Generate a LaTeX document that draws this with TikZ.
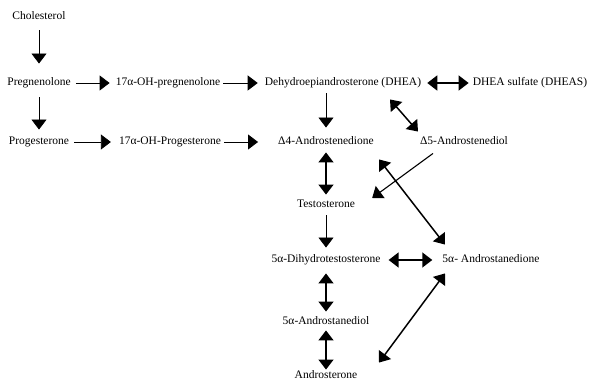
\documentclass[tikz,border=0pt]{standalone}
\usepackage{fontspec}
\setmainfont{Liberation Serif}
\usepackage{tikz}
\usetikzlibrary{arrows.meta}
\tikzset{
  cmpd/.style={inner sep=0pt,text height=8pt,text depth=2.5pt,font=\fontsize{11.5}{13}\selectfont},
  flow/.style={-{Triangle[length=10pt,width=15pt]},line width=0.8pt,draw=black},
  twoway/.style={{Triangle[length=10pt,width=15pt]}-{Triangle[length=10pt,width=15pt]},line width=1.5pt,draw=black},
}
\begin{document}
\begin{tikzpicture}[x=1pt,y=-1pt]
  \useasboundingbox (0,0) rectangle (590,382);
  \node[cmpd] (chol) at (39,17) {Cholesterol};
  \node[cmpd] (preg) at (39,83) {Pregnenolone};
  \node[cmpd] (ohpreg) at (168,83) {17α-OH-pregnenolone};
  \node[cmpd] (dhea) at (343,83) {Dehydroepiandrosterone (DHEA)};
  \node[cmpd] (dheas) at (530,83) {DHEA sulfate (DHEAS)};
  \node[cmpd] (prog) at (39,142) {Progesterone};
  \node[cmpd] (ohprog) at (170,142) {17α-OH-Progesterone};
  \node[cmpd] (adione) at (326,142) {Δ4-Androstenedione};
  \node[cmpd] (adiol) at (464,142) {Δ5-Androstenediol};
  \node[cmpd] (testo) at (326,205) {Testosterone};
  \node[cmpd] (dht) at (326,260) {5α-Dihydrotestosterone};
  \node[cmpd] (anedione) at (491,260) {5α- Androstanedione};
  \node[cmpd] (anediol) at (326,322) {5α-Androstanediol};
  \node[cmpd] (andro) at (326,376) {Androsterone};
  \draw[flow,shorten <=8pt,shorten >=14pt] (chol.south) -- (preg.north);
  \draw[flow,shorten <=9pt,shorten >=7pt] (preg.south) -- (prog.north);
  \draw[flow,shorten <=5pt,shorten >=6pt] (preg.east) -- (ohpreg.west);
  \draw[flow,shorten <=3pt,shorten >=7pt] (ohpreg.east) -- (dhea.west);
  \draw[twoway,shorten <=6pt,shorten >=4pt] (dhea.east) -- (dheas.west);
  \draw[flow,shorten <=5pt,shorten >=8pt] (prog.east) -- (ohprog.west);
  \draw[flow,shorten <=3pt,shorten >=20pt] (ohprog.east) -- (adione.west);
  \draw[flow,shorten <=5pt,shorten >=9pt] (adione.north |- dhea.south) -- (adione.north);
  \draw[twoway] ([shift={(47,11)}]dhea.south) -- ([shift={(-46,-5)}]adiol.north);
  \draw[twoway,shorten <=5pt,shorten >=5pt] (adione.south) -- (testo.north);
  \draw[flow,line width=1.1pt] ([shift={(-31,6)}]adiol.south) -- ([shift={(17,-7)}]testo.east);
  \draw[twoway] ([shift={(53,12)}]adione.south) -- ([shift={(-46,-10)}]anedione.north);
  \draw[flow,shorten <=5pt,shorten >=7pt] (testo.south) -- (dht.north);
  \draw[twoway,shorten <=8pt,shorten >=10pt] (dht.east) -- (anedione.west);
  \draw[twoway,shorten <=8pt,shorten >=5pt] (dht.south) -- (anediol.north);
  \draw[twoway,shorten <=3pt,shorten >=1pt] (anediol.south) -- (andro.north);
  \draw[twoway] ([shift={(53,-8)}]andro.north) -- ([shift={(-46,8)}]anedione.south);
\end{tikzpicture}
\end{document}
